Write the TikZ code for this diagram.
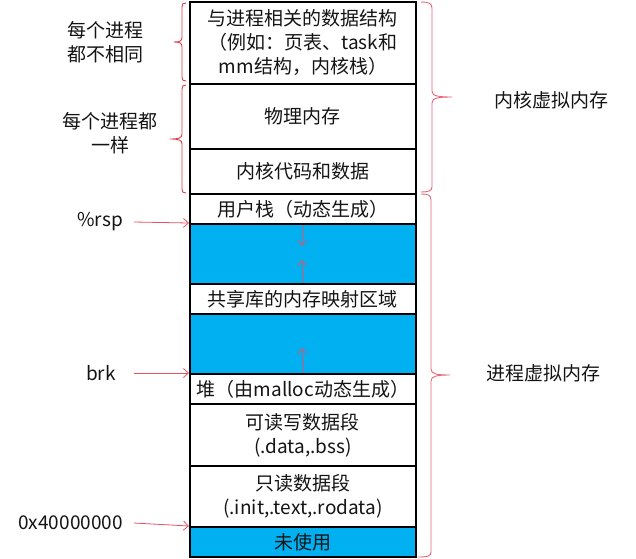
\documentclass[tikz,border=0pt]{standalone}
\usepackage{fontspec}
\setmainfont{Noto Sans CJK SC}
\usetikzlibrary{arrows.meta}
\definecolor{segblue}{RGB}{0,176,240}
\definecolor{arrred}{RGB}{232,80,100}
\definecolor{brred}{RGB}{222,60,70}
\definecolor{brpink}{RGB}{232,100,120}
\definecolor{txt}{RGB}{20,20,20}
\begin{document}
\begin{tikzpicture}[x=1pt,y=1pt,
  seg/.style={draw=black, line width=1.9pt, minimum width=226pt, inner sep=0pt,
    anchor=north west, align=center, text=txt,
    font=\fontsize{19}{24}\selectfont},
  blueseg/.style={seg, fill=segblue},
  lbl/.style={text=txt, align=center, inner sep=0pt, font=\fontsize{19}{24}\selectfont},
  arr/.style={draw=arrred, line width=0.8pt, -{Straight Barb[length=5pt,width=9pt]}},
  lbrace/.style={draw=brred, line width=0.9pt},
  rbrace/.style={draw=brpink, line width=0.9pt}]
\useasboundingbox (0,0) rectangle (636,-558);
% segments
\node[seg, minimum height=82pt] (r1) at (189,-1) {与进程相关的数据结构\\（例如：页表、task和\\mm结构，内核栈）};
\node[seg, minimum height=65pt] (r2) at (189,-83) {物理内存};
\node[seg, minimum height=45pt] (r3) at (189,-148) {内核代码和数据};
\node[seg, minimum height=30pt] (r4) at (189,-193) {用户栈（动态生成）};
\node[blueseg, minimum height=60pt] (b1) at (189,-223) {};
\node[seg, minimum height=30pt] (r5) at (189,-283) {共享库的内存映射区域};
\node[blueseg, minimum height=60pt] (b2) at (189,-313) {};
\node[seg, minimum height=30pt] (r6) at (189,-373) {堆（由malloc动态生成）};
\node[seg, minimum height=62pt] (r7) at (189,-403) {可读写数据段\\(.data,.bss)};
\node[seg, minimum height=61pt] (r8) at (189,-465) {只读数据段\\(.init,.text,.rodata)};
\node[blueseg, minimum height=30pt] (r9) at (189,-526) {未使用};
% inner arrows
\coordinate (d1) at (302,-246);
\coordinate (u1) at (302,-260);
\coordinate (u2) at (302,-348);
\draw[arr] (r4.south) -- (d1);
\draw[arr] (r5.north) -- (u1);
\draw[arr] (r6.north) -- (u2);
% left labels
\node[lbl, anchor=east] (rsp) at (123,-222) {\%rsp};
\node[lbl, anchor=east] (brk) at (116,-373) {brk};
\node[lbl, anchor=east] (addr) at (123,-523) {0x40000000};
\draw[arr] ([xshift=11pt]rsp.east) -- (b1.north west);
\draw[arr] ([xshift=18pt]brk.east) -- (r6.north west);
\draw[arr] ([xshift=11pt]addr.east) -- (r9.north west);
% left descriptions
\node[lbl] (diff) at (105,-42) {每个进程\\都不相同};
\node[lbl] (same) at (110,-133) {每个进程都\\一样};
% right descriptions
\node[lbl] (kvm) at (551,-100) {内核虚拟内存};
\node[lbl] (pvm) at (543,-373) {进程虚拟内存};
% left braces
\draw[lbrace] (186,-3) .. controls (183,-3) and (182,-4) .. (182,-7)
  -- (182,-37) .. controls (182,-41) and (180,-42) .. (174,-42)
  .. controls (180,-42) and (182,-43) .. (182,-47)
  -- (182,-77) .. controls (182,-80) and (183,-81) .. (186,-81);
\draw[lbrace] (186,-85) .. controls (183,-85) and (182,-86) .. (182,-89)
  -- (182,-134) .. controls (182,-138) and (179,-139) .. (170,-139)
  .. controls (179,-139) and (182,-140) .. (182,-144)
  -- (182,-189) .. controls (182,-192) and (183,-193) .. (186,-193);
% right braces
\draw[rbrace] (421,-2) .. controls (428,-2) and (432,-3) .. (432,-8)
  -- (432,-91) .. controls (432,-96) and (438,-97) .. (452,-97)
  .. controls (438,-97) and (432,-98) .. (432,-103)
  -- (432,-187) .. controls (432,-191) and (428,-192) .. (421,-192);
\draw[rbrace] (421,-194) .. controls (428,-194) and (431,-195) .. (431,-200)
  -- (431,-369) .. controls (431,-374) and (437,-375) .. (450,-375)
  .. controls (437,-375) and (431,-376) .. (431,-381)
  -- (431,-552) .. controls (431,-556) and (428,-557) .. (418,-557);
\end{tikzpicture}
\end{document}
